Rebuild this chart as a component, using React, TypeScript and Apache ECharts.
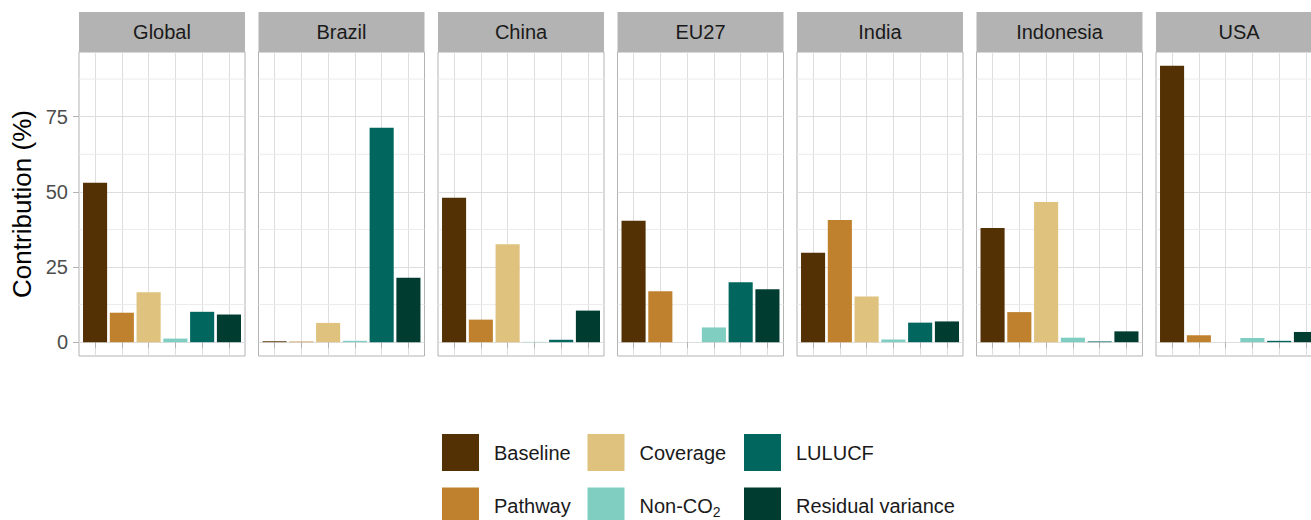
import React, { useEffect, useRef } from "react";
import * as echarts from "echarts";

// Facet panels and bar components
const regions = ["Global", "Brazil", "China", "EU27", "India", "Indonesia", "USA"];
const components = ["Baseline", "Pathway", "Coverage", "Non-CO2", "LULUCF", "Residual variance"];
const componentColors = ["#543005", "#bf812d", "#dfc27d", "#80cdc1", "#01665e", "#003c30"];

// Contribution (%) of each component, one value per region (same order as regions)
const baseline = [53.0, 0.3, 48.0, 40.4, 29.7, 38.0, 91.9];
const pathway = [9.8, 0.2, 7.5, 16.9, 40.6, 10.0, 2.3];
const coverage = [16.6, 6.4, 32.6, 0, 15.2, 46.6, 0];
const nonCO2 = [1.2, 0.45, 0.1, 4.9, 0.9, 1.5, 1.4];
const lulucf = [10.1, 71.3, 0.8, 19.9, 6.5, 0.25, 0.45];
const residual = [9.2, 21.4, 10.5, 17.6, 6.9, 3.6, 3.4];
const componentValues = [baseline, pathway, coverage, nonCO2, lulucf, residual];

// Axis ticks
const yTicks = [0, 25, 50, 75];
const yMinor = [12.5, 37.5, 62.5, 87.5];
const xTicks = [1, 2, 3, 4, 5, 6];

// Layout
const FONT = "Liberation Sans";
const PANEL_LEFT = 79;
const PANEL_STRIDE = 179.5;
const PANEL_WIDTH = 166;
const PANEL_TOP = 52;
const PANEL_HEIGHT = 304;
const STRIP_TOP = 12;
const STRIP_HEIGHT = 40;

// Legend key grid: 3 columns x 2 rows, filled column by column
const LEGEND_COLS = [442, 587.5, 744];
const LEGEND_ROWS = [434, 487.5];

const X_MIN = 0.4;
const X_MAX = 6.6;
const dataMax = Math.max(...componentValues.flat());
const Y_MIN = -0.05 * dataMax;
const Y_MAX = dataMax * 1.05;

export default function App() {
  const ref = useRef<HTMLDivElement>(null);

  useEffect(() => {
    if (!ref.current) return;
    const chart = echarts.init(ref.current, null, { renderer: "svg" });

    const grids: any[] = [];
    const xAxes: any[] = [];
    const yAxes: any[] = [];
    const series: any[] = [];
    const graphics: any[] = [];

    regions.forEach((region, r) => {
      const left = PANEL_LEFT + r * PANEL_STRIDE;
      grids.push({
        left,
        top: PANEL_TOP,
        width: PANEL_WIDTH,
        height: PANEL_HEIGHT,
        show: true,
        backgroundColor: "#ffffff",
        borderColor: "#b3b3b3",
        borderWidth: 1,
        containLabel: false,
        outerBoundsMode: "none",
      });
      xAxes.push({
        type: "value",
        gridIndex: r,
        min: X_MIN,
        max: X_MAX,
        axisLine: { show: false },
        axisTick: {
          show: true,
          customValues: xTicks,
          length: 6,
          lineStyle: { color: "#b3b3b3", width: 1 },
        },
        axisLabel: { show: false, customValues: xTicks },
        splitLine: { show: true, lineStyle: { color: "#dedede", width: 1 } },
      });
      yAxes.push({
        type: "value",
        gridIndex: r,
        min: Y_MIN,
        max: Y_MAX,
        axisLine: { show: false },
        axisTick: {
          show: r === 0,
          customValues: yTicks,
          length: 6,
          lineStyle: { color: "#b3b3b3", width: 1 },
        },
        axisLabel: {
          show: r === 0,
          customValues: yTicks,
          margin: 11,
          fontSize: 20,
          fontFamily: FONT,
          color: "#4d4d4d",
        },
        splitLine: { show: true, lineStyle: { color: "#dedede", width: 1 } },
        name: r === 0 ? "Contribution (%)" : "",
        nameLocation: "middle",
        nameGap: 44,
        nameTextStyle: { fontSize: 26, fontFamily: FONT, color: "#000000" },
      });

      // minor horizontal grid lines
      series.push({
        type: "custom",
        name: "_minor",
        xAxisIndex: r,
        yAxisIndex: r,
        silent: true,
        z: 1,
        data: yMinor.map((v) => [X_MIN, v]),
        renderItem: (_p: any, api: any) => {
          const v = api.value(1);
          const a = api.coord([X_MIN, v]);
          const b = api.coord([X_MAX, v]);
          return {
            type: "line",
            shape: { x1: a[0], y1: a[1], x2: b[0], y2: b[1] },
            style: { stroke: "#ebebeb", lineWidth: 1 },
          };
        },
      });

      components.forEach((comp, c) => {
        series.push({
          type: "custom",
          name: comp,
          xAxisIndex: r,
          yAxisIndex: r,
          z: 3,
          itemStyle: { color: componentColors[c] },
          data: [[c + 1, componentValues[c][r]]],
          renderItem: (_p: any, api: any) => {
            const x = api.value(0);
            const v = api.value(1);
            const top = api.coord([x - 0.45, v]);
            const base = api.coord([x + 0.45, 0]);
            return {
              type: "rect",
              shape: {
                x: top[0],
                y: top[1],
                width: base[0] - top[0],
                height: base[1] - top[1],
              },
              style: { fill: componentColors[c] },
            };
          },
        });
      });

      // facet strip
      graphics.push({
        type: "rect",
        shape: { x: left, y: STRIP_TOP, width: PANEL_WIDTH, height: STRIP_HEIGHT },
        style: { fill: "#b3b3b3" },
        silent: true,
      });
      graphics.push({
        type: "text",
        x: left + PANEL_WIDTH / 2,
        y: STRIP_TOP + STRIP_HEIGHT / 2,
        style: {
          text: region,
          fill: "#1a1a1a",
          fontSize: 20,
          fontFamily: FONT,
          align: "center",
          verticalAlign: "middle",
        },
        silent: true,
      });
    });

    // one legend entry per component, placed column-major
    const legends = components.map((comp, i) => ({
      left: LEGEND_COLS[Math.floor(i / 2)],
      top: LEGEND_ROWS[i % 2],
      padding: 0,
      data: [comp],
      icon: "rect",
      itemWidth: 37,
      itemHeight: 37,
      selectedMode: false,
      formatter: (name: string) => (name === "Non-CO2" ? "Non-CO{sub|2}" : name),
      textStyle: {
        fontSize: 20,
        fontFamily: FONT,
        color: "#1a1a1a",
        padding: [0, 0, 0, 10],
        rich: {
          sub: { fontSize: 14, fontFamily: FONT, color: "#1a1a1a", padding: [12, 0, 0, 0] },
        },
      },
    }));

    chart.setOption({
      animation: false,
      textStyle: { fontFamily: FONT },
      grid: grids,
      xAxis: xAxes,
      yAxis: yAxes,
      series,
      legend: legends,
      graphic: graphics,
    });

    return () => chart.dispose();
  }, []);

  return (
    <div
      ref={ref}
      style={{ position: "absolute", left: 0, top: 0, width: 1311, height: 520, background: "#ffffff" }}
    />
  );
}
